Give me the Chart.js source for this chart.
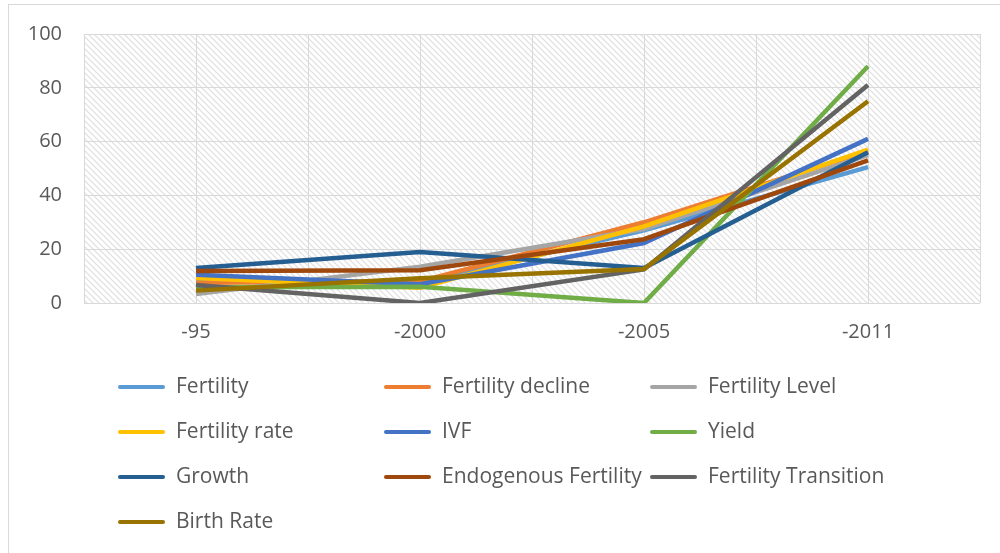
<!DOCTYPE html>
<html>
<head>
<meta charset="utf-8">
<script src="https://cdn.jsdelivr.net/npm/chart.js@4.4.1/dist/chart.umd.min.js"></script>
<style>
html,body{margin:0;padding:0;background:#fff;}
#wrap{width:1000px;height:553px;}
</style>
</head>
<body>
<div id="wrap"><canvas id="c" width="1000" height="553"></canvas></div>
<script>
const categories = ['-95', '-2000', '-2005', '-2011'];
const yTicks = [0, 20, 40, 60, 80, 100];
const seriesNames = ['Fertility', 'Fertility decline', 'Fertility Level', 'Fertility rate', 'IVF', 'Yield', 'Growth', 'Endogenous Fertility', 'Fertility Transition', 'Birth Rate'];
const fertility = [8, 7.5, 27, 50.5];
const fertilityDecline = [7.5, 8, 30, 56.5];
const fertilityLevel = [3.3, 13.5, 27.5, 55];
const fertilityRate = [9.3, 5.7, 28.5, 57];
const ivf = [10.5, 7, 22.3, 61];
const yieldValues = [5.9, 6, 0, 88];
const growth = [13, 19, 13, 56];
const endogenousFertility = [11.9, 12.2, 23.7, 53];
const fertilityTransition = [6.7, 0, 12.5, 81];
const birthRate = [4.6, 9.2, 12.6, 75];
const seriesColors = ['#5b9bd5', '#ed7d31', '#a5a5a5', '#ffc000', '#4472c4', '#70ad47', '#255e91', '#9e480e', '#636363', '#997300'];

const allSeries = [fertility, fertilityDecline, fertilityLevel, fertilityRate, ivf, yieldValues, growth, endogenousFertility, fertilityTransition, birthRate];

const FONT = '"Open Sans", "Noto Sans", sans-serif';
const TEXT = '#595959';
const GRID = '#d9d9d9';

function makePattern(ctx) {
  const t = document.createElement('canvas');
  t.width = 6; t.height = 6;
  const c = t.getContext('2d');
  c.fillStyle = '#ffffff';
  c.fillRect(0, 0, 6, 6);
  c.strokeStyle = '#dedede';
  c.lineWidth = 1.2;
  c.beginPath();
  c.moveTo(-1, -1); c.lineTo(7, 7);
  c.moveTo(-4, 2); c.lineTo(4, 10);
  c.moveTo(2, -4); c.lineTo(10, 4);
  c.stroke();
  return ctx.createPattern(t, 'repeat');
}

const bgPlugin = {
  id: 'bg',
  beforeDraw(chart) {
    const ctx = chart.ctx;
    const a = chart.chartArea;
    ctx.save();
    ctx.fillStyle = '#fff';
    ctx.fillRect(0, 0, chart.width, chart.height);
    ctx.strokeStyle = GRID;
    ctx.lineWidth = 1;
    ctx.strokeRect(8.5, 4.5, 1000, 600);
    ctx.fillStyle = makePattern(ctx);
    ctx.fillRect(a.left, a.top, a.right - a.left, a.bottom - a.top);
    ctx.restore();
  }
};

const legendPlugin = {
  id: 'customLegend',
  afterDraw(chart) {
    const ctx = chart.ctx;
    ctx.save();
    ctx.font = '21px ' + FONT;
    ctx.textBaseline = 'middle';
    ctx.textAlign = 'left';
    chart.data.datasets.forEach((ds, i) => {
      const col = i % 3, row = Math.floor(i / 3);
      const x0 = 118 + col * 266;
      const y = 387 + row * 45;
      ctx.strokeStyle = ds.borderColor;
      ctx.lineWidth = 4;
      ctx.lineCap = 'round';
      ctx.beginPath();
      ctx.moveTo(x0 + 2, y);
      ctx.lineTo(x0 + 45, y);
      ctx.stroke();
      ctx.fillStyle = TEXT;
      ctx.fillText(ds.label, x0 + 58, y);
    });
    ctx.restore();
  }
};

const datasets = allSeries.map((vals, i) => ({
  label: seriesNames[i],
  data: vals,
  borderColor: seriesColors[i],
  backgroundColor: seriesColors[i],
  borderWidth: 4.5,
  pointRadius: 0,
  tension: 0,
  borderCapStyle: 'butt',
  borderJoinStyle: 'miter',
  fill: false,
  order: allSeries.length - i,
  xAxisID: 'x',
  yAxisID: 'y'
}));

new Chart(document.getElementById('c'), {
  type: 'line',
  data: { labels: categories, datasets: datasets },
  options: {
    responsive: false,
    animation: false,
    devicePixelRatio: 1,
    layout: { padding: { left: 0, right: 20, top: 33, bottom: 200 } },
    plugins: { legend: { display: false }, tooltip: { enabled: false } },
    scales: {
      xg: {
        type: 'linear',
        position: 'top',
        min: -0.5,
        max: 3.5,
        ticks: { display: false, stepSize: 0.5 },
        grid: { color: GRID, lineWidth: 1, drawTicks: false },
        border: { display: false },
        afterFit(s) { s.height = 0; }
      },
      x: {
        type: 'category',
        offset: true,
        grid: { display: false, drawTicks: false },
        border: { display: false },
        ticks: { color: TEXT, font: { family: FONT, size: 20 }, padding: 17, maxRotation: 0 },
        afterFit(s) { s.height = 50; }
      },
      y: {
        min: 0,
        max: 100,
        afterBuildTicks(s) { s.ticks = yTicks.map(v => ({ value: v })); },
        ticks: { color: TEXT, font: { family: FONT, size: 20 }, padding: 22 },
        grid: { color: GRID, lineWidth: 1, drawTicks: false },
        border: { display: false },
        afterFit(s) { s.width = 84; }
      }
    }
  },
  plugins: [bgPlugin, legendPlugin]
});
</script>
</body>
</html>
